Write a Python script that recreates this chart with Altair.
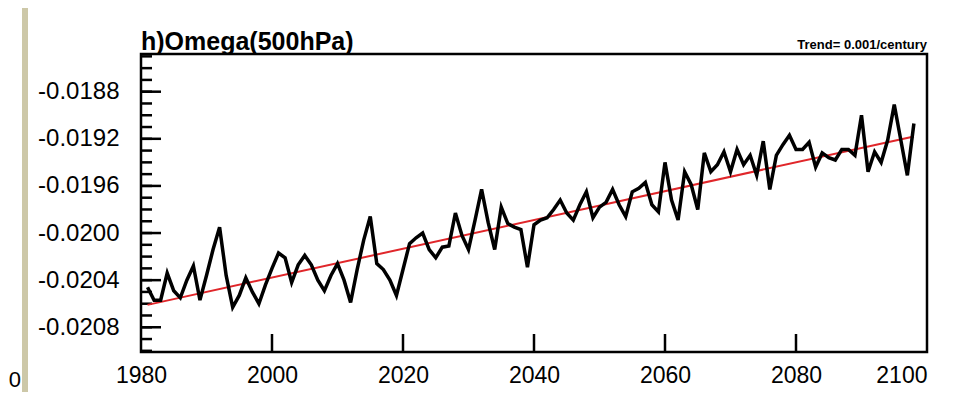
import altair as alt
import pandas as pd

years = list(range(1981, 2099))
omega = [
    -0.02046, -0.02057, -0.02057, -0.02034, -0.02049, -0.02055, -0.02040, -0.02028, -0.02057, -0.02036,
    -0.02014, -0.01995, -0.02036, -0.02063, -0.02053, -0.02038, -0.02050, -0.02060, -0.02044, -0.02030,
    -0.02017, -0.02021, -0.02042, -0.02027, -0.02019, -0.02027, -0.02040, -0.02049, -0.02036, -0.02026,
    -0.02040, -0.02059, -0.02031, -0.02006, -0.01986, -0.02026, -0.02031, -0.02040, -0.02053, -0.02031,
    -0.02009, -0.02004, -0.02000, -0.02014, -0.02021, -0.02012, -0.02011, -0.01983, -0.02002, -0.02014,
    -0.01989, -0.01963, -0.01991, -0.02014, -0.01978, -0.01992, -0.01995, -0.01997, -0.02029, -0.01993,
    -0.01989, -0.01987, -0.01980, -0.01972, -0.01983, -0.01989, -0.01976, -0.01965, -0.01987, -0.01978,
    -0.01974, -0.01963, -0.01976, -0.01986, -0.01965, -0.01962, -0.01957, -0.01976, -0.01982, -0.01940,
    -0.01972, -0.01989, -0.01948, -0.01959, -0.01980, -0.01932, -0.01948, -0.01942, -0.01931, -0.01948,
    -0.01929, -0.01942, -0.01934, -0.01951, -0.01922, -0.01963, -0.01934, -0.01925, -0.01917, -0.01929,
    -0.01929, -0.01923, -0.01944, -0.01932, -0.01936, -0.01938, -0.01929, -0.01929, -0.01934, -0.01900,
    -0.01948, -0.01931, -0.01940, -0.01921, -0.01891, -0.01921, -0.01951, -0.01907,
]
trend_years = [1981, 2098]
trend_vals = [-0.02061, -0.01918]

y_major = [-0.0208, -0.0204, -0.0200, -0.0196, -0.0192, -0.0188]
y_minor = [round(-0.0210 + 0.0001 * i, 5) for i in range(26)]
x_major = [1980, 2000, 2020, 2040, 2060, 2080, 2100]
x_inner = [2000, 2020, 2040, 2060, 2080]

title_text = "h)Omega(500hPa)"
trend_text = "Trend= 0.001/century"

FONT = "Liberation Sans"
W, H = 786, 298

xscale = alt.Scale(domain=[1980, 2100], nice=False, zero=False)
yscale = alt.Scale(domain=[-0.02101, -0.01848], nice=False, zero=False)
xaxis = alt.Axis(values=x_major, format="d", title=None, ticks=False, tickSize=0,
                 domain=False, grid=False, labelFontSize=23, labelFont=FONT,
                 labelColor="black", labelPadding=12, labelFlush=False,
                 labelAlign=alt.condition("datum.value == 2100", alt.value("right"), alt.value("center")))
yaxis = alt.Axis(values=y_major, title=None, ticks=False, tickSize=0, domain=False,
                 grid=False, labelFontSize=24, labelFont=FONT, labelColor="black",
                 labelPadding=22,
                 labelExpr="replace(format(datum.value, '.4f'), '\u2212', '-')")

df = pd.DataFrame({"year": years, "omega": omega})
tdf = pd.DataFrame({"year": trend_years, "omega": trend_vals})

line = alt.Chart(df).mark_line(color="black", strokeWidth=3.5, strokeJoin="miter").encode(
    x=alt.X("year:Q", scale=xscale, axis=xaxis),
    y=alt.Y("omega:Q", scale=yscale, axis=yaxis),
)
trend = alt.Chart(tdf).mark_line(color="#e0262a", strokeWidth=2).encode(
    x=alt.X("year:Q", scale=xscale, axis=xaxis),
    y=alt.Y("omega:Q", scale=yscale, axis=yaxis),
)

ymaj = alt.Chart(pd.DataFrame({"omega": y_major})).mark_rule(color="black", strokeWidth=2.5).encode(
    y=alt.Y("omega:Q", scale=yscale, axis=yaxis), x=alt.value(0), x2=alt.value(20))
ymin = alt.Chart(pd.DataFrame({"omega": y_minor})).mark_rule(color="black", strokeWidth=2.5).encode(
    y=alt.Y("omega:Q", scale=yscale, axis=yaxis), x=alt.value(0), x2=alt.value(11))
xmaj = alt.Chart(pd.DataFrame({"year": x_inner})).mark_rule(color="black", strokeWidth=2.5).encode(
    x=alt.X("year:Q", scale=xscale, axis=xaxis), y=alt.value(H), y2=alt.value(H - 18))

title = alt.Chart(pd.DataFrame({"t": [title_text]})).mark_text(
    align="left", baseline="alphabetic", fontSize=25, fontWeight="bold", font=FONT, color="black"
).encode(x=alt.value(0), y=alt.value(-4), text="t:N")
trend_lbl = alt.Chart(pd.DataFrame({"t": [trend_text]})).mark_text(
    align="right", baseline="alphabetic", fontSize=13, fontWeight="bold", font=FONT, color="black"
).encode(x=alt.value(W), y=alt.value(-5), text="t:N")

band = alt.Chart(pd.DataFrame({"a": [0]})).mark_rule(color="#cdc8a8", strokeWidth=6).encode(
    x=alt.value(-116), y=alt.value(-60), y2=alt.value(H + 60))
zero_lbl = alt.Chart(pd.DataFrame({"t": ["0"]})).mark_text(
    align="right", baseline="alphabetic", fontSize=22, font=FONT, color="black"
).encode(x=alt.value(-120), y=alt.value(H + 35), text="t:N")

chart = alt.layer(band, zero_lbl, ymin, ymaj, xmaj, trend, line, title, trend_lbl).properties(
    width=W, height=H,
    autosize=alt.AutoSizeParams(type="none"),
    padding={"left": 133, "top": 46, "right": 18, "bottom": 40},
    background="white",
).configure_view(stroke="black", strokeWidth=2.5).configure_axis(grid=False)

chart.save("out.html", embed_options={"renderer": "svg", "actions": False})
